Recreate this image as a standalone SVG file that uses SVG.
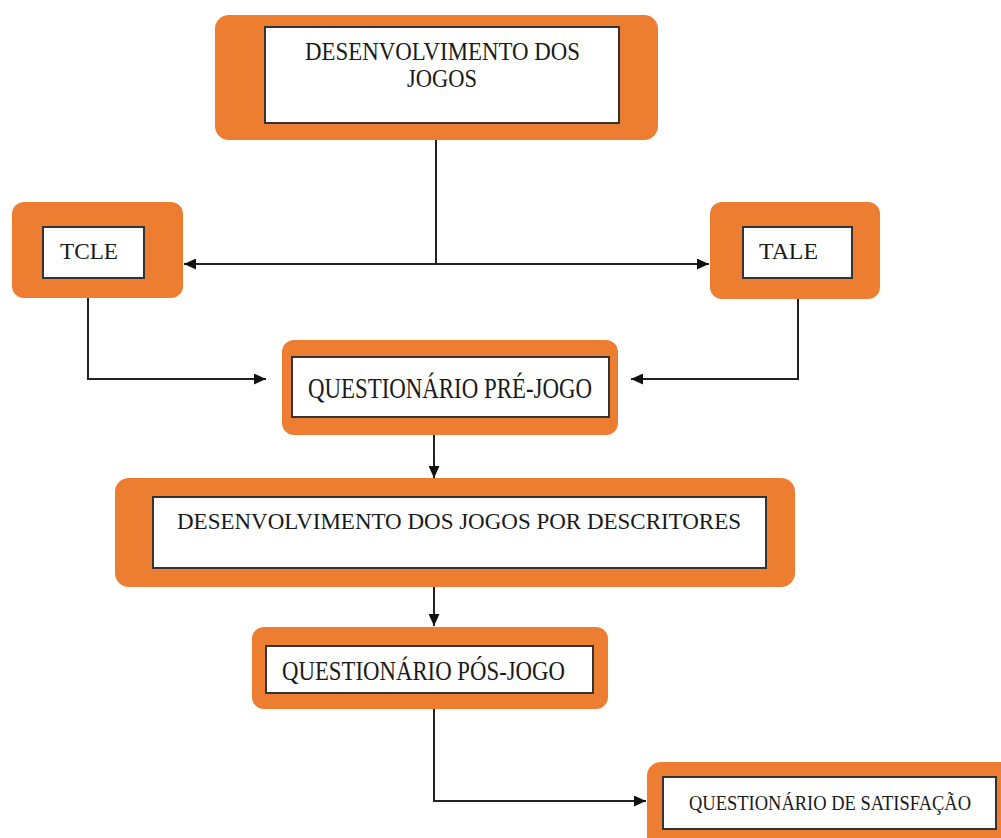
<svg xmlns="http://www.w3.org/2000/svg" width="1001" height="838" viewBox="0 0 1001 838">
<defs>
<marker id="arr" markerUnits="userSpaceOnUse" markerWidth="13" markerHeight="11" refX="12" refY="5.5" orient="auto">
<path d="M0,0 L12,5.5 L0,11 z" fill="#111"/>
</marker>
<style>
.outer{fill:#ED7D31;}
.inner{fill:#ffffff;stroke:#333;stroke-width:2;}
.t{font-family:"Liberation Serif","Times New Roman",serif;fill:#1a1a1a;}
.c{fill:none;stroke:#222;stroke-width:2;}
</style>
</defs>
<rect width="1001" height="838" fill="#ffffff"/>
<g id="connectors">
<path class="c" d="M436 140 V264"/>
<path class="c" d="M436 264 H184" marker-end="url(#arr)"/>
<path class="c" d="M436 264 H709" marker-end="url(#arr)"/>
<path class="c" d="M88 298 V379 H266" marker-end="url(#arr)"/>
<path class="c" d="M798 299 V379 H631" marker-end="url(#arr)"/>
<path class="c" d="M434 435 V478" marker-end="url(#arr)"/>
<path class="c" d="M434 587 V626" marker-end="url(#arr)"/>
<path class="c" d="M434 709 V801 H646" marker-end="url(#arr)"/>
</g>
<g id="node-desenvolvimento">
<rect class="outer" x="215" y="15" width="443" height="125" rx="14"/>
<rect class="inner" x="265" y="27" width="354" height="96"/>
<text class="t" x="305" y="60" font-size="25" textLength="275" lengthAdjust="spacingAndGlyphs">DESENVOLVIMENTO DOS</text>
<text class="t" x="407" y="87" font-size="25" textLength="70" lengthAdjust="spacingAndGlyphs">JOGOS</text>
</g>
<g id="node-tcle">
<rect class="outer" x="12" y="202" width="171" height="96" rx="12"/>
<rect class="inner" x="43" y="227" width="101" height="51"/>
<text class="t" x="60" y="259" font-size="24" textLength="58" lengthAdjust="spacingAndGlyphs">TCLE</text>
</g>
<g id="node-tale">
<rect class="outer" x="710" y="202" width="170" height="97" rx="12"/>
<rect class="inner" x="743" y="227" width="109" height="51"/>
<text class="t" x="759" y="259" font-size="24" textLength="59" lengthAdjust="spacingAndGlyphs">TALE</text>
</g>
<g id="node-questionario-pre">
<rect class="outer" x="282" y="340" width="336" height="95" rx="12"/>
<rect class="inner" x="292" y="357" width="317" height="60"/>
<text class="t" x="308" y="398" font-size="30" textLength="284" lengthAdjust="spacingAndGlyphs">QUESTIONÁRIO PRÉ-JOGO</text>
</g>
<g id="node-desenvolvimento-descritores">
<rect class="outer" x="115" y="478" width="680" height="109" rx="14"/>
<rect class="inner" x="153" y="497" width="613" height="71"/>
<text class="t" x="177" y="529" font-size="24" textLength="564" lengthAdjust="spacingAndGlyphs">DESENVOLVIMENTO DOS JOGOS POR DESCRITORES</text>
</g>
<g id="node-questionario-pos">
<rect class="outer" x="252" y="627" width="356" height="82" rx="12"/>
<rect class="inner" x="266" y="646" width="327" height="47"/>
<text class="t" x="282" y="680" font-size="27" textLength="283" lengthAdjust="spacingAndGlyphs">QUESTIONÁRIO PÓS-JOGO</text>
</g>
<g id="node-satisfacao">
<path class="outer" d="M661 762 H1001 V838 H647 V776 A14 14 0 0 1 661 762 Z"/>
<rect class="inner" x="663" y="777" width="333" height="52"/>
<text class="t" x="689" y="810" font-size="22" textLength="282" lengthAdjust="spacingAndGlyphs">QUESTIONÁRIO DE SATISFAÇÃO</text>
</g>
</svg>
